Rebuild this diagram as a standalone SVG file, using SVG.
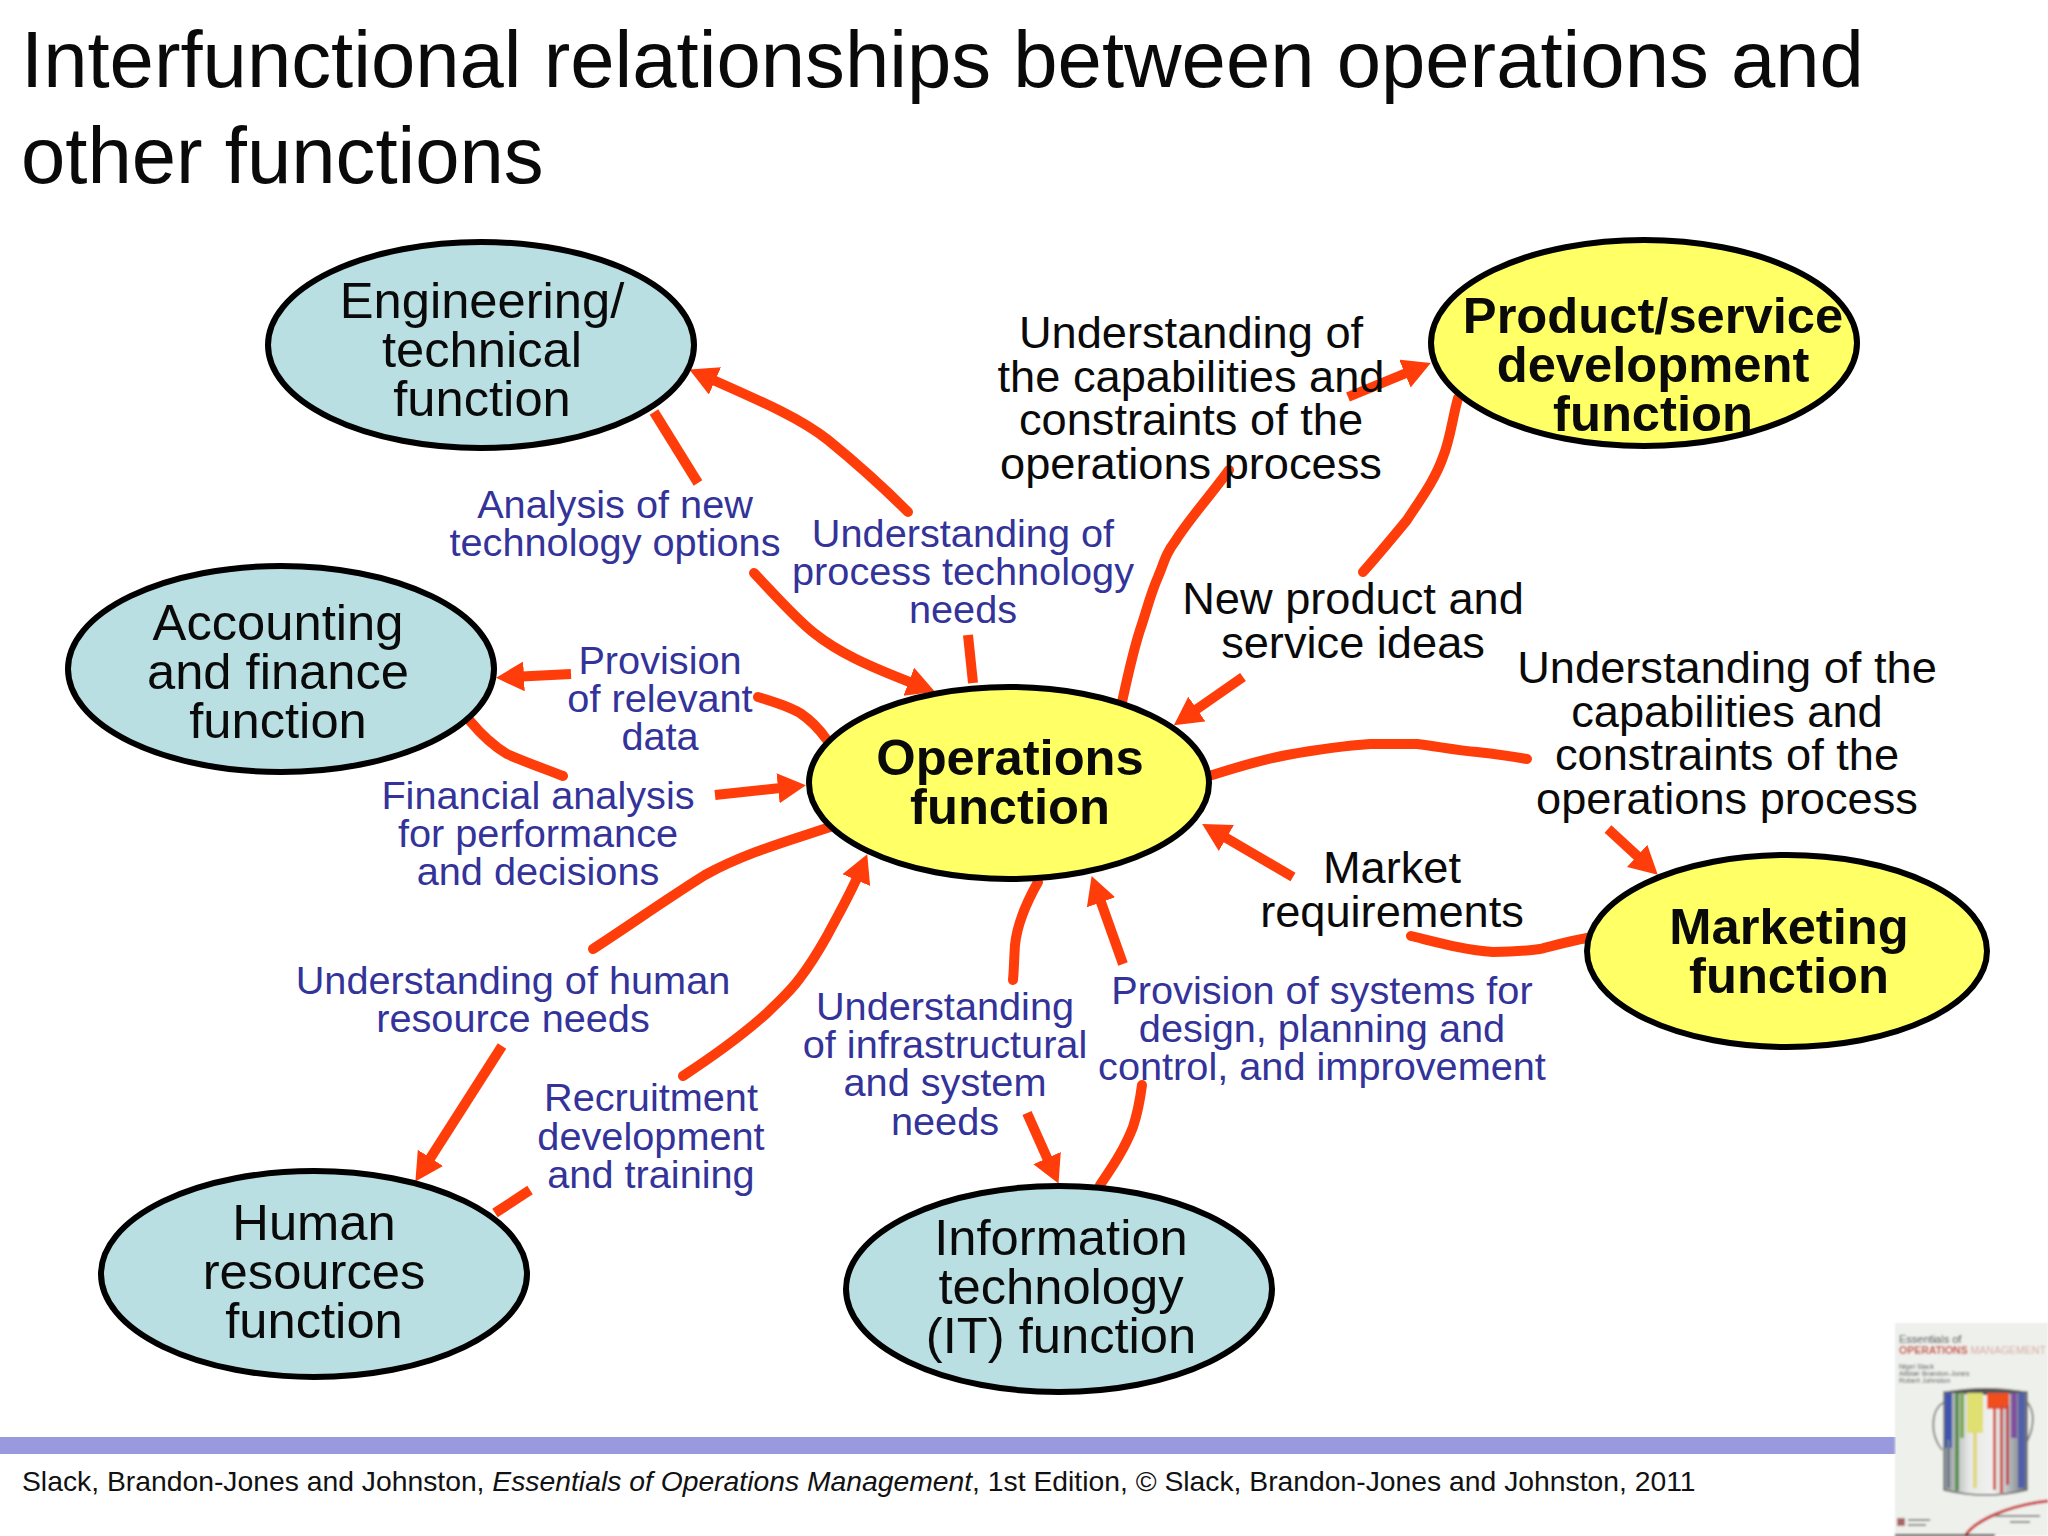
<svg xmlns="http://www.w3.org/2000/svg" width="2048" height="1536" viewBox="0 0 2048 1536">
<style>
text{font-family:"Liberation Sans",Arial,sans-serif;text-anchor:middle}
.title{font-size:79.7px;text-anchor:start;fill:#0a0a0a}
.n{font-size:50.7px;fill:#0a0a0a}
.b{font-size:50.7px;font-weight:bold;fill:#0a0a0a}
.k{font-size:45.2px;fill:#0a0a0a}
.u{font-size:39.7px;fill:#333399}
.foot{font-size:28.3px;text-anchor:start;fill:#111}
.blue{fill:#b9dfe2;stroke:#000;stroke-width:6}
.yel{fill:#ffff66;stroke:#000;stroke-width:6}
.c{fill:none;stroke:#ff3d0a;stroke-width:10;stroke-linejoin:round}
.r{stroke-linecap:round}
.a{marker-end:url(#ah)}
</style>
<defs>
<marker id="ah" markerUnits="userSpaceOnUse" markerWidth="32" markerHeight="32" refX="12" refY="15" orient="auto"><path d="M0 0L28 15L0 30Z" fill="#ff3d0a"/></marker>
<filter id="bl"><feGaussianBlur stdDeviation="0.8"/></filter>
<linearGradient id="can" x1="0" x2="1" y1="0" y2="0"><stop offset="0" stop-color="#8f9494"/><stop offset="0.3" stop-color="#e6e8e6"/><stop offset="0.6" stop-color="#f2f2f0"/><stop offset="1" stop-color="#70757a"/></linearGradient>
</defs>
<rect width="2048" height="1536" fill="#fff"/>
<text class="title" x="21" y="87">Interfunctional relationships between operations and</text>
<text class="title" x="21" y="183">other functions</text>

<g id="connectors">
<path class="c a r" d="M908 512C880 484 855 462 828 440C800 418 765 403 704 376"/>
<path class="c" d="M654 412L698 483"/>
<path class="c a r" d="M754 573C775 595 795 618 814 633C838 652 865 665 920 686"/>
<path class="c" d="M968 635L973 683"/>
<path class="c r" d="M1229 470C1210 496 1190 518 1176 540C1165 555 1165 560 1158 577C1150 595 1147 610 1140 630C1132 655 1127 680 1122 702"/>
<path class="c a" d="M1348 397L1416 369"/>
<path class="c r" d="M1458 398C1452 420 1450 440 1443 457C1435 480 1420 500 1407 520C1393 537 1378 555 1363 572"/>
<path class="c a" d="M1243 677L1187 716"/>
<path class="c a" d="M571 674L512 677"/>
<path class="c r" d="M758 697C775 702 788 706 800 713C812 721 820 730 827 740"/>
<path class="c r" d="M563 776C545 769 525 762 507 754C492 745 480 733 470 721"/>
<path class="c a" d="M715 795L790 787"/>
<path class="c r" d="M830 827C785 842 745 853 705 875C665 900 630 925 593 949"/>
<path class="c a" d="M502 1046L424 1168"/>
<path class="c" d="M530 1190L495 1213"/>
<path class="c a r" d="M683 1076C715 1055 745 1033 767 1013C780 1000 790 992 800 978C810 965 818 952 827 936C838 915 850 895 861 869"/>
<path class="c r" d="M1038 882C1025 905 1017 925 1015 945C1014 960 1014 970 1013 980"/>
<path class="c a" d="M1027 1113L1052 1169"/>
<path class="c a" d="M1123 964L1097 891"/>
<path class="c r" d="M1142 1085C1140 1100 1138 1112 1133 1127C1125 1148 1113 1166 1100 1185"/>
<path class="c r" d="M1212 775C1235 768 1260 760 1287 755C1315 750 1340 746 1370 744L1417 744C1435 746 1455 750 1477 752C1495 754 1510 756 1527 759"/>
<path class="c a" d="M1608 829L1646 864"/>
<path class="c a" d="M1293 877L1216 832"/>
<path class="c r" d="M1411 936C1440 943 1465 950 1493 952C1510 952 1525 951 1540 949C1556 945 1570 941 1587 938"/>
</g>

<g id="eng"><ellipse class="blue" cx="481" cy="345" rx="213" ry="103"/>
<text class="n" x="482" y="318">Engineering/</text><text class="n" x="482" y="367">technical</text><text class="n" x="482" y="416">function</text></g>
<g id="acc"><ellipse class="blue" cx="281" cy="669" rx="213" ry="103"/>
<text class="n" x="278" y="640">Accounting</text><text class="n" x="278" y="689">and finance</text><text class="n" x="278" y="738">function</text></g>
<g id="hr"><ellipse class="blue" cx="314" cy="1274" rx="213" ry="103"/>
<text class="n" x="314" y="1240">Human</text><text class="n" x="314" y="1289">resources</text><text class="n" x="314" y="1338">function</text></g>
<g id="it"><ellipse class="blue" cx="1059" cy="1289" rx="213" ry="103"/>
<text class="n" x="1061" y="1255">Information</text><text class="n" x="1061" y="1304">technology</text><text class="n" x="1061" y="1353">(IT) function</text></g>
<g id="prod"><ellipse class="yel" cx="1644" cy="343" rx="213" ry="103"/>
<text class="b" x="1653" y="333">Product/service</text><text class="b" x="1653" y="382">development</text><text class="b" x="1653" y="431">function</text></g>
<g id="mkt"><ellipse class="yel" cx="1787" cy="951" rx="200" ry="96"/>
<text class="b" x="1789" y="944">Marketing</text><text class="b" x="1789" y="993">function</text></g>
<g id="ops"><ellipse class="yel" cx="1009" cy="783" rx="200" ry="96"/>
<text class="b" x="1010" y="775">Operations</text><text class="b" x="1010" y="824">function</text></g>

<g id="labels">
<text class="k" x="1191" y="348">Understanding of</text><text class="k" x="1191" y="392">the capabilities and</text><text class="k" x="1191" y="435">constraints of the</text><text class="k" x="1191" y="479">operations process</text>
<text class="k" x="1353" y="614">New product and</text><text class="k" x="1353" y="658">service ideas</text>
<text class="k" x="1727" y="683">Understanding of the</text><text class="k" x="1727" y="727">capabilities and</text><text class="k" x="1727" y="770">constraints of the</text><text class="k" x="1727" y="814">operations process</text>
<text class="k" x="1392" y="883">Market</text><text class="k" x="1392" y="927">requirements</text>
<text class="u" x="615" y="518">Analysis of new</text><text class="u" x="615" y="556">technology options</text>
<text class="u" x="963" y="547">Understanding of</text><text class="u" x="963" y="585">process technology</text><text class="u" x="963" y="623">needs</text>
<text class="u" x="660" y="674">Provision</text><text class="u" x="660" y="712">of relevant</text><text class="u" x="660" y="750">data</text>
<text class="u" x="538" y="809">Financial analysis</text><text class="u" x="538" y="847">for performance</text><text class="u" x="538" y="885">and decisions</text>
<text class="u" x="513" y="994">Understanding of human</text><text class="u" x="513" y="1032">resource needs</text>
<text class="u" x="651" y="1111">Recruitment</text><text class="u" x="651" y="1150">development</text><text class="u" x="651" y="1188">and training</text>
<text class="u" x="945" y="1020">Understanding</text><text class="u" x="945" y="1058">of infrastructural</text><text class="u" x="945" y="1096">and system</text><text class="u" x="945" y="1135">needs</text>
<text class="u" x="1322" y="1004">Provision of systems for</text><text class="u" x="1322" y="1042">design, planning and</text><text class="u" x="1322" y="1080">control, and improvement</text>
</g>

<rect x="0" y="1437" width="1896" height="17" fill="#9999dd"/>
<text class="foot" x="22" y="1491">Slack, Brandon-Jones and Johnston, <tspan font-style="italic">Essentials of Operations Management</tspan>, 1st Edition, © Slack, Brandon-Jones and Johnston, 2011</text>

<g id="cover" filter="url(#bl)">
<rect x="1895" y="1323" width="153" height="213" fill="#eef0ec"/>
<text x="1899" y="1343" style="font-size:11px;text-anchor:start;fill:#333">Essentials of</text>
<text x="1899" y="1354" style="font-size:10.500px;text-anchor:start;fill:#c84030;font-weight:bold">OPERATIONS<tspan fill="#d8a8a0" font-weight="normal"> MANAGEMENT</tspan></text>
<text x="1899" y="1369" style="font-size:7px;text-anchor:start;fill:#555">Nigel Slack</text>
<text x="1899" y="1376" style="font-size:7px;text-anchor:start;fill:#555">Alistair Brandon-Jones</text>
<text x="1899" y="1383" style="font-size:7px;text-anchor:start;fill:#555">Robert Johnston</text>
<path d="M1944 1402C1930 1410 1930 1435 1942 1450M2027 1402C2036 1412 2034 1430 2025 1445" fill="none" stroke="#888" stroke-width="2"/>
<path d="M1944 1392H2027V1490Q1986 1500 1944 1490Z" fill="url(#can)" stroke="#666" stroke-width="1.500"/>
<path d="M1944 1392Q1986 1384 2027 1392Q1986 1398 1944 1392Z" fill="#555"/>
<rect x="1945" y="1393" width="7" height="55" fill="#3c55b0"/>
<rect x="1947" y="1440" width="3" height="48" fill="#6a7a90"/>
<rect x="1955" y="1393" width="4" height="98" fill="#5a9050"/>
<rect x="1960" y="1393" width="4" height="45" fill="#7aaa50"/>
<rect x="1967" y="1393" width="16" height="40" fill="#dfe070"/>
<rect x="1973" y="1430" width="4" height="58" fill="#e0d880"/>
<rect x="1987" y="1393" width="22" height="16" fill="#f0501a"/>
<rect x="1993" y="1405" width="3" height="85" fill="#d05040"/>
<rect x="2000" y="1405" width="3" height="88" fill="#d04a40"/>
<rect x="2006" y="1405" width="3" height="80" fill="#c04050"/>
<rect x="2011" y="1393" width="6" height="45" fill="#8050a0"/>
<rect x="2018" y="1393" width="7" height="95" fill="#5060a8"/>
<path d="M1965 1536C1975 1520 2010 1505 2048 1501" fill="none" stroke="#c83a3a" stroke-width="3"/>
<rect x="1895" y="1534" width="100" height="2" fill="#222"/>
<path d="M1995 1516H2040M2010 1522H2030" stroke="#888" stroke-width="2"/>
<rect x="1897" y="1518" width="8" height="8" fill="#a66"/>
<path d="M1908 1520H1930M1908 1525H1926" stroke="#888" stroke-width="2"/>
</g>
</svg>
